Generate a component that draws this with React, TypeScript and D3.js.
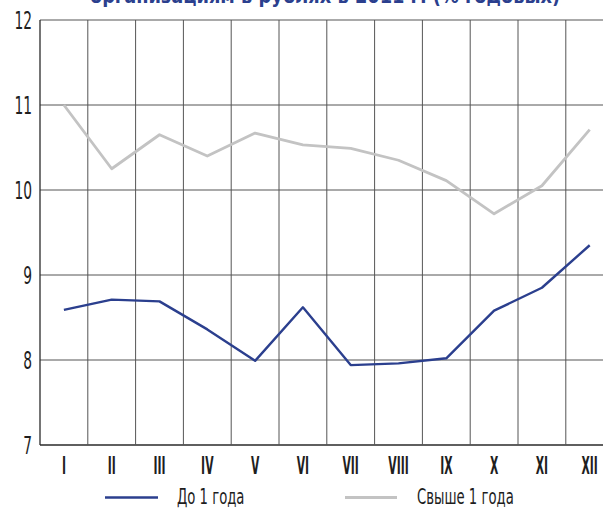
import React from "react";
import * as d3 from "d3";

const months = ["I", "II", "III", "IV", "V", "VI", "VII", "VIII", "IX", "X", "XI", "XII"];
const shortTerm = [8.59, 8.71, 8.69, 8.36, 7.99, 8.62, 7.94, 7.96, 8.02, 8.58, 8.85, 9.35];
const longTerm = [11.0, 10.25, 10.65, 10.4, 10.67, 10.53, 10.49, 10.35, 10.11, 9.72, 10.05, 10.71];
const yTicks = [7, 8, 9, 10, 11, 12];
const seriesNames = ["До 1 года", "Свыше 1 года"];
const title = "организациям в рублях в 2011 г. (% годовых)";

const W = 603;
const H = 509;
const left = 40;
const colW = 47.8;
const top = 20;
const bottom = 445;
const FONT = "'DejaVu Sans Condensed', 'DejaVu Sans', sans-serif";
const BLUE = "#2b3f8e";
const GRAY = "#c3c3c3";
const INK = "#1e1e1e";

type NarrowProps = {
  x: number;
  y: number;
  sx: number;
  size: number;
  anchor?: "start" | "middle" | "end";
  weight?: string;
  fill?: string;
  children: React.ReactNode;
};

// Text squeezed horizontally to mimic a condensed typeface
function Narrow({ x, y, sx, size, anchor = "start", weight = "normal", fill = INK, children }: NarrowProps) {
  return (
    <text
      transform={`translate(${x},${y}) scale(${sx},1)`}
      textAnchor={anchor}
      fontFamily={FONT}
      fontSize={size}
      fontWeight={weight}
      fill={fill}
    >
      {children}
    </text>
  );
}

export default function App() {
  const x = d3
    .scaleBand<string>()
    .domain(months)
    .range([left, left + colW * months.length])
    .padding(0);
  const y = d3.scaleLinear().domain([7, 12]).range([bottom, top]);
  const cx = (m: string) => (x(m) as number) + x.bandwidth() / 2;

  const line = d3
    .line<number>()
    .x((_, i) => cx(months[i]))
    .y((d) => y(d));

  return (
    <svg
      width={W}
      height={H}
      style={{ position: "absolute", left: 0, top: 0, display: "block" }}
    >
      <rect width={W} height={H} fill="#fff" />
      <Narrow x={325} y={3} sx={0.9} size={22} anchor="middle" weight="bold" fill={BLUE}>
        {title}
      </Narrow>
      {/* horizontal grid */}
      {yTicks.map((t) => (
        <line
          key={t}
          x1={left}
          x2={W}
          y1={y(t)}
          y2={y(t)}
          stroke={t === 7 ? "#2a2a2a" : "#555"}
          strokeWidth={t === 7 ? 1.3 : 1}
        />
      ))}
      {/* vertical grid */}
      {months.map((m) => (
        <line
          key={m}
          x1={x(m) as number}
          x2={x(m) as number}
          y1={top}
          y2={bottom}
          stroke={m === "I" ? "#2a2a2a" : "#555"}
          strokeWidth={m === "I" ? 1.3 : 1}
        />
      ))}
      {yTicks.map((t) => (
        <Narrow key={t} x={32} y={y(t) + 8.5} sx={0.64} size={24} anchor="end">
          {t}
        </Narrow>
      ))}
      {months.map((m) => (
        <Narrow key={m} x={cx(m)} y={474} sx={0.5} size={24} anchor="middle" weight="bold">
          {m}
        </Narrow>
      ))}
      <path d={line(longTerm) || ""} fill="none" stroke={GRAY} strokeWidth={2.8} strokeLinejoin="round" />
      <path d={line(shortTerm) || ""} fill="none" stroke={BLUE} strokeWidth={2.4} strokeLinejoin="round" />
      {/* legend */}
      <line x1={105} x2={158} y1={497.5} y2={497.5} stroke={BLUE} strokeWidth={2.4} />
      <Narrow x={177} y={504} sx={0.7} size={21}>
        {seriesNames[0]}
      </Narrow>
      <line x1={345} x2={397} y1={497.5} y2={497.5} stroke={GRAY} strokeWidth={2.8} />
      <Narrow x={417} y={504} sx={0.7} size={21}>
        {seriesNames[1]}
      </Narrow>
    </svg>
  );
}
